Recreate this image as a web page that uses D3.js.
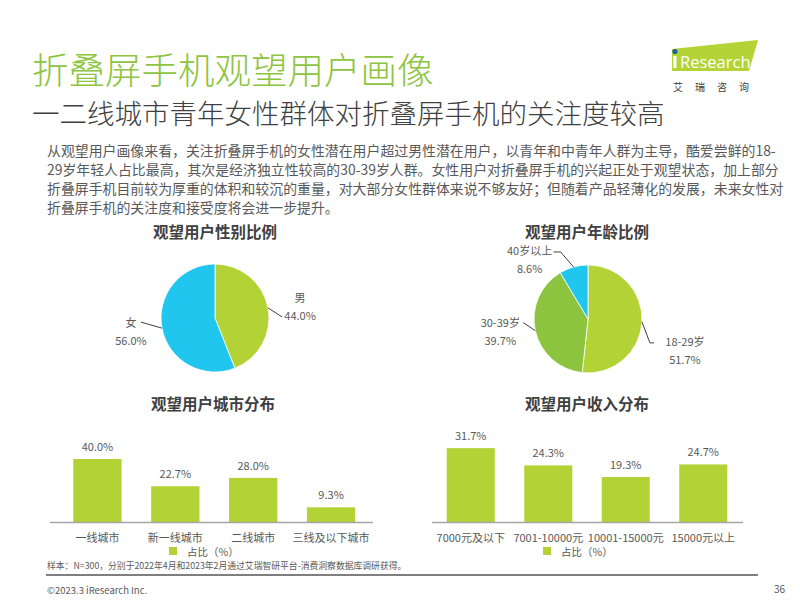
<!DOCTYPE html>
<html><head><meta charset="utf-8">
<script src="https://cdn.jsdelivr.net/npm/d3@7"></script>
<style>
html,body{margin:0;padding:0;background:#fff;}
svg{display:block;font-family:"Noto Sans CJK SC","Noto Sans",sans-serif;}
</style></head>
<body>
<svg id="c" width="800" height="600"></svg>
<script>
// ---- data ----
const titleText = "折叠屏手机观望用户画像";
const subtitleText = "一二线城市青年女性群体对折叠屏手机的关注度较高";
const bodyLines = [
  "从观望用户画像来看，关注折叠屏手机的女性潜在用户超过男性潜在用户，以青年和中青年人群为主导，酷爱尝鲜的18-",
  "29岁年轻人占比最高，其次是经济独立性较高的30-39岁人群。女性用户对折叠屏手机的兴起正处于观望状态，加上部分",
  "折叠屏手机目前较为厚重的体积和较沉的重量，对大部分女性群体来说不够友好；但随着产品轻薄化的发展，未来女性对",
  "折叠屏手机的关注度和接受度将会进一步提升。"
];
const genderLabels = ["男", "女"];
const genderValues = [44.0, 56.0];
const ageLabels = ["18-29岁", "30-39岁", "40岁以上"];
const ageValues = [51.7, 39.7, 8.6];
const cityLabels = ["一线城市", "新一线城市", "二线城市", "三线及以下城市"];
const cityValues = [40.0, 22.7, 28.0, 9.3];
const incomeLabels = ["7000元及以下", "7001-10000元", "10001-15000元", "15000元以上"];
const incomeValues = [31.7, 24.3, 19.3, 24.7];
const legendText = "占比（%）";
const footnote = "样本：N=300，分别于2022年4月和2023年2月通过艾瑞智研平台-消费洞察数据库调研获得。";
const copyright = "©2023.3 iResearch Inc.";
const pageNo = "36";

// ---- styles ----
const GREEN = "#b2d235", DGREEN = "#8cc43f", CYAN = "#21c6ef";
const TXT = "#595959", DARK = "#404040";

const svg = d3.select("#c");

// header
svg.append("text").attr("x", 32).attr("y", 68).attr("dominant-baseline", "central")
  .attr("font-size", 36.5).attr("font-weight", 300).attr("fill", "#8dc540").text(titleText);
svg.append("text").attr("x", 32).attr("y", 112).attr("dominant-baseline", "central")
  .attr("font-size", 27.5).attr("font-weight", 300).attr("fill", DARK).text(subtitleText);

// logo
const logo = svg.append("g");
logo.append("polygon").attr("points", "672,49 758,40 749,71 672,71").attr("fill", "#b4d334");
logo.append("circle").attr("cx", 675).attr("cy", 51.5).attr("r", 2.6).attr("fill", "#1f5fa8");
logo.append("rect").attr("x", 673.3).attr("y", 56).attr("width", 3.2).attr("height", 12).attr("fill", "#fff");
logo.append("text").attr("x", 680).attr("y", 68).attr("font-size", 16.5).attr("fill", "#fff")
  .attr("font-family", "Open Sans, sans-serif").text("Research");
logo.append("text").attr("x", 673).attr("y", 86).attr("dominant-baseline", "central")
  .attr("font-size", 10).attr("fill", DARK).attr("letter-spacing", 12).text("艾瑞咨询");

// body text
svg.append("g").selectAll("text").data(bodyLines).join("text")
  .attr("x", 47).attr("y", (d, i) => 150 + i * 19).attr("dominant-baseline", "central")
  .attr("font-size", 13.9).attr("fill", TXT).text(d => d);

// section titles
const secTitles = [
  {t: "观望用户性别比例", x: 215, y: 231}, {t: "观望用户年龄比例", x: 587, y: 231},
  {t: "观望用户城市分布", x: 213, y: 403}, {t: "观望用户收入分布", x: 587, y: 403}
];
svg.append("g").selectAll("text").data(secTitles).join("text")
  .attr("x", d => d.x).attr("y", d => d.y).attr("text-anchor", "middle").attr("dominant-baseline", "central")
  .attr("font-size", 15.5).attr("font-weight", "bold").attr("fill", DARK).text(d => d.t);

// pies
function drawPie(cx, cy, r, labels, values, colors, layout) {
  const g = svg.append("g").attr("transform", `translate(${cx},${cy})`);
  const pie = d3.pie().sort(null).value(d => d)(values);
  const arc = d3.arc().innerRadius(0).outerRadius(r);
  g.selectAll("path").data(pie).join("path").attr("d", arc)
    .attr("fill", (d, i) => colors[i]).attr("stroke", "#fff").attr("stroke-width", 0.8);
  pie.forEach((d, i) => {
    const a = (d.startAngle + d.endAngle) / 2;
    const p0 = [Math.sin(a) * r, -Math.cos(a) * r];
    const L = layout[i];
    const p1 = [p0[0] + L.e[0], p0[1] + L.e[1]];
    const p2 = [p1[0] + L.h, p1[1]];
    g.append("polyline").attr("points", [p0, p1, p2].map(p => p.join(",")).join(" "))
      .attr("fill", "none").attr("stroke", DARK).attr("stroke-width", 1);
    const lx = p2[0] + L.lx, ly = p2[1] + L.ly;
    g.append("text").attr("x", lx).attr("y", ly).attr("text-anchor", "middle").attr("dominant-baseline", "central")
      .attr("font-size", 11).attr("fill", TXT).text(labels[i]);
    g.append("text").attr("x", lx).attr("y", ly + 18).attr("text-anchor", "middle").attr("dominant-baseline", "central")
      .attr("font-size", 11).attr("fill", TXT).text(values[i].toFixed(1) + "%");
  });
}
drawPie(215, 318, 54, genderLabels, genderValues, [GREEN, CYAN], [
  {e: [14, 9], h: 0, lx: 18, ly: -20},
  {e: [-21, -6], h: 0, lx: -10, ly: 0}
]);
drawPie(588, 319, 54, ageLabels, ageValues, [GREEN, DGREEN, CYAN], [
  {e: [8, 21], h: 4, lx: 31, ly: -2},
  {e: [-12, -8], h: 0, lx: -23, ly: -1},
  {e: [-13, -15], h: -7, lx: -24, ly: -2}
]);

// bar charts
function drawBars(x0, x1, axX0, axX1, baseY, pxPerUnit, labels, values, legendX) {
  const g = svg.append("g");
  const x = d3.scaleBand().domain(labels).range([x0, x1]).paddingInner(0.38).paddingOuter(0.19);
  const y = d3.scaleLinear().domain([0, 1]).range([baseY, baseY - pxPerUnit]);
  g.selectAll("rect").data(values).join("rect")
    .attr("x", (d, i) => x(labels[i])).attr("width", x.bandwidth())
    .attr("y", d => y(d)).attr("height", d => baseY - y(d)).attr("fill", GREEN);
  g.selectAll("text.v").data(values).join("text").attr("class", "v")
    .attr("x", (d, i) => x(labels[i]) + x.bandwidth() / 2).attr("y", d => y(d) - 13)
    .attr("text-anchor", "middle").attr("dominant-baseline", "central")
    .attr("font-size", 11).attr("fill", TXT).text(d => d.toFixed(1) + "%");
  g.append("line").attr("x1", axX0).attr("x2", axX1).attr("y1", baseY + 0.5).attr("y2", baseY + 0.5)
    .attr("stroke", "#a6a6a6").attr("stroke-width", 1.3);
  const ax = d3.axisBottom(x).tickSize(0).tickPadding(0);
  const axg = g.append("g").attr("transform", `translate(0,${baseY + 15})`).call(ax);
  axg.select(".domain").remove();
  axg.selectAll("text").attr("font-size", 11).attr("fill", TXT)
    .attr("font-family", '"Noto Sans CJK SC",sans-serif').attr("dy", 0).attr("dominant-baseline", "central");
  g.append("rect").attr("x", legendX).attr("y", baseY + 25).attr("width", 8).attr("height", 8).attr("fill", GREEN);
  g.append("text").attr("x", legendX + 18).attr("y", baseY + 29).attr("dominant-baseline", "central")
    .attr("font-size", 10.5).attr("fill", TXT).text(legendText);
}
drawBars(58.5, 370, 50, 373, 522, 1.575, cityLabels, cityValues, 169);
drawBars(432, 742, 432, 743, 522, 2.33, incomeLabels, incomeValues, 543);

// footer
svg.append("text").attr("x", 47).attr("y", 565).attr("dominant-baseline", "central")
  .attr("font-size", 8.8).attr("fill", TXT).text(footnote);
svg.append("line").attr("x1", 46).attr("x2", 758).attr("y1", 575).attr("y2", 575)
  .attr("stroke", "#7f7f7f").attr("stroke-width", 1.8);
svg.append("text").attr("x", 47).attr("y", 590).attr("dominant-baseline", "central")
  .attr("font-size", 9.5).attr("fill", TXT).text(copyright);
svg.append("text").attr("x", 785).attr("y", 588).attr("text-anchor", "end").attr("dominant-baseline", "central")
  .attr("font-size", 10).attr("fill", TXT).text(pageNo);
</script>
</body></html>
